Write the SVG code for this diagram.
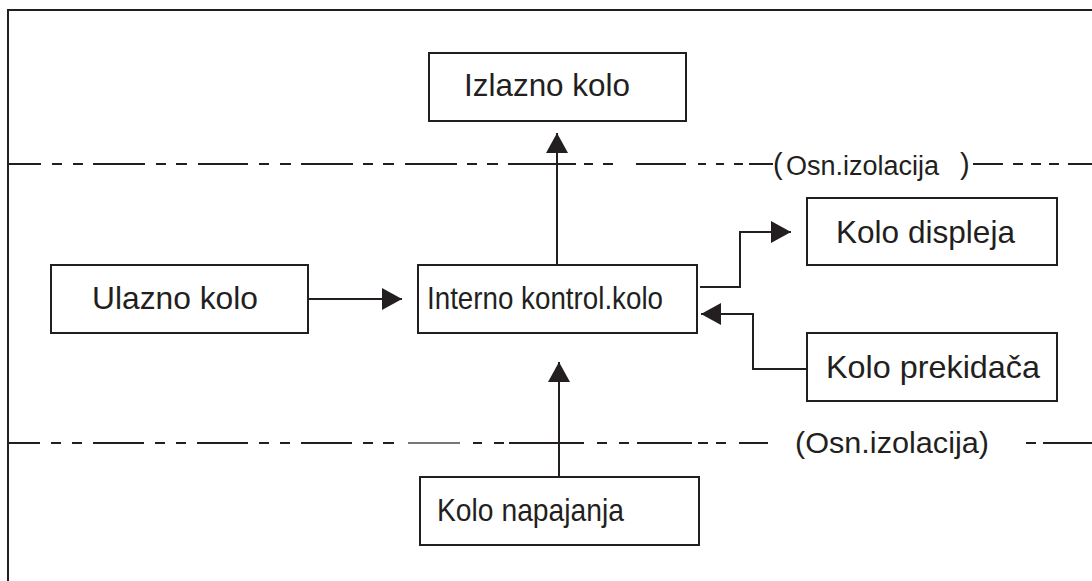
<svg xmlns="http://www.w3.org/2000/svg" width="1092" height="581" viewBox="0 0 1092 581">
<style>
.box{fill:#fff;stroke:#231f20;stroke-width:2}
.lbl{font-family:"Liberation Sans",Arial,sans-serif;font-size:32px;fill:#231f20}
.iso{font-family:"Liberation Sans",Arial,sans-serif;font-size:29px;fill:#231f20}
.ln{stroke:#231f20;stroke-width:2;fill:none}
.dl{stroke:#231f20;stroke-width:2.2;fill:none}
</style>
<defs>
<marker id="ah" markerWidth="20" markerHeight="22" refX="20" refY="11" orient="auto" markerUnits="userSpaceOnUse">
<path d="M0,0 L20,11 L0,22 Z" fill="#231f20"/>
</marker>
</defs>
<rect width="1092" height="581" fill="#fff"/>
<g id="frame">
<path class="ln" d="M8,581 V10 H1092"/>
</g>
<g id="isolation-top">
<path class="dl" d="M8,164H41M52,164H62M73,164H83M93,164H145M156,164H166M176,164H187M198,164H248M259,164H269M280,164H291M301,164H353M363,164H373M383,164H394M405,164H457M467,164H477M487,164H498M508,164H576M584,164H593M603,164H613M636,164H686M698,164H706M716,164H724M734,164H743M749,164H773M973,164H1003M1013,164H1023M1031,164H1041M1049,164H1059M1068,164H1092"/>
<text class="iso" x="773" y="174">(</text>
<text class="iso" style="font-size:27px" x="786" y="175" textLength="153" lengthAdjust="spacingAndGlyphs">Osn.izolacija</text>
<text class="iso" x="960" y="174">)</text>
</g>
<g id="isolation-bottom">
<path class="dl" d="M8,443H40M51,443H61M72,443H82M93,443H144M155,443H165M176,443H186M197,443H248M259,443H269M280,443H290M301,443H352M363,443H373M383,443H394M473,443H482M494,443H504M509,443H584M597,443H607M619,443H629M637,443H692M698,443H708M716,443H726M739,443H768M1026,443H1036M1043,443H1092"/>
<path d="M408,443H460" stroke="#777" stroke-width="2"/>
<text class="iso" style="font-size:30px" x="795" y="453" textLength="194" lengthAdjust="spacingAndGlyphs">(Osn.izolacija)</text>
</g>
<g id="connectors">
<path class="ln" d="M557,265 V133" marker-end="url(#ah)"/>
<path class="ln" d="M308,299 H402" marker-end="url(#ah)"/>
<path class="ln" d="M700,287 H740 V232 H791" marker-end="url(#ah)"/>
<path class="ln" d="M807,369 H753 V314 H701" marker-end="url(#ah)"/>
<path class="ln" d="M559,477 V362" marker-end="url(#ah)"/>
</g>
<g id="izlazno">
<rect class="box" x="429" y="53" width="257" height="68"/>
<text class="lbl" x="464" y="96" textLength="166" lengthAdjust="spacingAndGlyphs">Izlazno kolo</text>
</g>
<g id="ulazno">
<rect class="box" x="51" y="265" width="257" height="68"/>
<text class="lbl" x="92" y="309" textLength="166" lengthAdjust="spacingAndGlyphs">Ulazno kolo</text>
</g>
<g id="interno">
<rect class="box" x="418" y="265" width="279" height="68"/>
<text class="lbl" x="427" y="309" textLength="236" lengthAdjust="spacingAndGlyphs">Interno kontrol.kolo</text>
</g>
<g id="displej">
<rect class="box" x="807" y="198" width="250" height="67"/>
<text class="lbl" x="836" y="243" textLength="179" lengthAdjust="spacingAndGlyphs">Kolo displeja</text>
</g>
<g id="prekidac">
<rect class="box" x="807" y="333" width="250" height="68"/>
<text class="lbl" x="826" y="378" textLength="214" lengthAdjust="spacingAndGlyphs">Kolo prekidača</text>
</g>
<g id="napajanje">
<rect class="box" x="420" y="477" width="279" height="68"/>
<text class="lbl" x="437" y="521" textLength="187" lengthAdjust="spacingAndGlyphs">Kolo napajanja</text>
</g>
</svg>
